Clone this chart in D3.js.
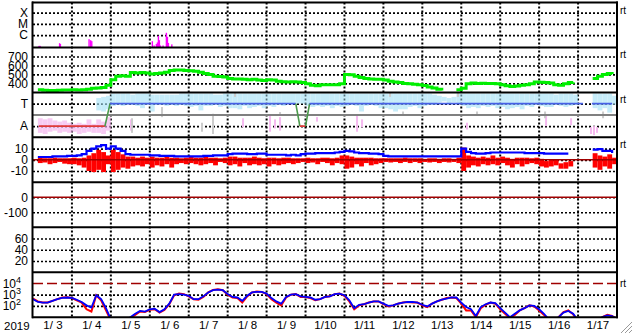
<!DOCTYPE html>
<html>
<head>
<meta charset="utf-8">
<script src="https://cdn.jsdelivr.net/npm/d3@7"></script>
<style>
body { margin: 0; background: #fff; }
svg { display: block; font-family: "Liberation Sans", Arial, sans-serif; }
</style>
</head>
<body>
<div id="chart"></div>
<script>
// ---- data (3-hour grid starting 2019-01-03 00:00) ----
const dayLabels = ["1/ 3","1/ 4","1/ 5","1/ 6","1/ 7","1/ 8","1/ 9","1/10","1/11","1/12","1/13","1/14","1/15","1/16","1/17"];

const flareTimes = ["2019-01-03 03:40","2019-01-03 04:20","2019-01-03 16:20","2019-01-03 16:50","2019-01-04 10:30","2019-01-04 11:30","2019-01-04 12:10",
  "2019-01-06 01:30","2019-01-06 02:35","2019-01-06 04:00","2019-01-06 04:38","2019-01-06 05:15","2019-01-06 05:51","2019-01-06 06:29",
  "2019-01-06 08:08","2019-01-06 10:10","2019-01-06 10:48","2019-01-06 11:24","2019-01-06 13:31"];
const flareFlux = [1.1e-7,1.1e-7,1.9e-7,1.6e-7,4.3e-7,3.5e-7,2.9e-7,
  2.85e-7,1.2e-7,1.6e-7,2.2e-7,8.6e-7,3.5e-7,1.2e-7,
  1.2e-7,1.6e-6,7e-7,2e-7,1.5e-7];

const speed = [null,330,325,322,322,325,328,328,330,328, 330,335,345,348,355,380,440,480,485,480,
  520,515,520,515,505,510,515,525,545,550, 548,545,540,535,525,510,500,480,478,470,
  455,450,448,445,440,445,438,432,440,438, 425,418,415,418,415,410,395,380,375,385,
  385,385,385,395,500,495,480,465,455,448, 445,445,438,425,415,410,400,395,390,385,
  378,360,350,335,320,null,null,330,345,395, 405,400,402,400,398,395,385,375,365,372,
  380,385,395,415,413,410,405,385,380,395, 410,412,null,null,null,455,480,500,510,505];

const tempLo = [null,null,null,null,null,null,null,null,null,null, null,null,null,2.4,2.3,2.5,2.8,2.9,2.8,2.9,
  2.9,2.8,2.6,2.9,2.3,2.9,2.9,2.8,2.9,2.8, 2.9,2.8,2.7,2.8,2.4,2.8,2.8,2.9,2.7,2.8,
  2.6,2.6,2.5,2.8,2.6,2.7,2.8,2.6,2.8,2.7, 2.9,2.8,3.0,3.0,3.0,3.0,2.8,2.7,2.8,2.7,
  2.8,2.6,2.8,2.7,2.8,2.9,2.8,2.3,2.8,2.9, 2.8,2.6,2.6,2.5,2.3,2.5,2.5,2.7,2.8,2.6,
  2.8,2.9,2.9,3.1,3.2,3.0,3.1,3.0,2.8,2.6, 2.7,2.6,2.8,2.7,2.8,2.6,2.7,2.5,2.6,2.7,
  2.5,2.8,2.7,2.9,2.8,2.7,2.7,2.9,2.8,2.7, 2.8,2.9,null,null,null,2.6,2.4,2.6,2.2,2.9];
const tempHi = [null,null,null,null,null,null,null,null,null,null, null,null,null,3.5,3.6,3.7,3.9,3.9,3.9,3.9,
  3.8,3.9,3.9,3.9,3.8,3.8,3.8,3.8,3.8,3.8, 3.9,3.9,3.9,3.9,3.9,3.9,3.9,3.8,3.8,3.9,
  3.9,3.9,3.9,3.9,3.9,3.9,3.9,3.9,3.9,3.9, 3.9,3.9,3.9,3.9,3.9,3.9,3.9,3.9,3.9,3.9,
  3.9,3.9,3.9,3.9,3.9,3.9,3.9,3.9,3.9,3.9, 3.9,3.9,3.9,3.9,3.9,3.9,3.9,3.9,3.9,3.9,
  3.9,3.9,3.8,3.7,3.6,3.5,3.6,3.9,3.9,3.9, 3.9,3.9,3.9,3.9,3.9,3.9,3.9,3.9,3.9,3.9,
  3.9,3.9,3.9,3.9,3.9,3.9,3.9,3.8,3.9,3.9, 3.9,3.8,null,null,null,3.9,3.9,3.9,3.9,3.7];
const alphaLo = [null,0.4,0.3,0.5,0.6,0.4,0.5,0.4,0.5,0.3,0.4,0.5,0.4,0.4,0.3,0.6];
const alphaHi = [null,1.7,1.6,1.7,1.5,1.4,1.5,1.3,1.2,1.3,1.2,1.6,1.2,1.6,1.4,1.8];

const pinkTimes = ["2019-01-05 12:25","2019-01-08 09:27","2019-01-09 02:07","2019-01-09 05:11","2019-01-09 08:17","2019-01-10 07:05","2019-01-11 07:45",
  "2019-01-11 10:50","2019-01-14 03:33","2019-01-16 04:16","2019-01-16 19:41","2019-01-17 08:00","2019-01-17 09:50","2019-01-17 11:41"];
const pinkLo = [0.6,0.9,0.5,0.8,0.6,1.4,0.5,0.9,0.7,1.0,1.1,0.3,0.2,0.4];
const pinkHi = [1.6,1.7,1.9,1.6,1.8,1.8,1.9,1.6,1.3,1.9,1.7,0.9,1.0,0.9];
const grayTimes = ["2019-01-05 13:02","2019-01-06 07:32","2019-01-07 08:11","2019-01-07 14:58","2019-01-08 04:32","2019-01-09 08:17",
  "2019-01-12 04:05","2019-01-12 12:06","2019-01-13 22:00","2019-01-14 09:43","2019-01-16 03:39","2019-01-17 15:24"];
const grayLo = [0.4,1.8,0.5,0.3,3.6,2.0,3.6,2.0,3.6,2.0,1.7,1.7];
const grayHi = [1.7,2.7,1.3,2.1,4.0,2.25,4.0,2.3,4.0,2.3,2.3,2.3];

const statusTimes = ["2019-01-03 03:40","2019-01-04 20:20","2019-01-04 23:30","2019-01-09 18:00","2019-01-09 20:30","2019-01-10 00:00",
  "2019-01-10 02:30","2019-01-17 03:00",null,"2019-01-17 08:30","2019-01-17 21:00"];
const statusLevel = [1,1,3,3,1,1,3,3,null,3,3];

const bTotal = [null,2.5,2.5,2.5,3,3,3,3.5,3.5,4, 5,8,10,12,13,10,12,10,8,5,
  4.5,4.5,4.5,4.5,4,4,3.5,3.5,3.5,3, 3,3,3,3,3,3.5,3.5,4,4,4,
  5,5.5,5.5,5.5,5,5,5.5,5.5,4.5,4.5, 4.5,4.5,4,4.5,4,5,5.5,5.5,6,6,
  6,6,6.5,7,8,7.5,6.5,6,6,5.5, 5.5,5,3.5,3,3,3,3,3,3,3,
  3,3,3,3,3,3,3,3,10,7, 6,5.5,5.5,6,6.5,6.5,6.5,6.5,6.5,6.5,
  6.5,6,6,6,6,5.5,5.5,5.5,5.5,5.5, 5.5,null,null,null,null,9,9.5,8,8,6];
const bzMin = [null,-2,-1.5,-3,-2,-1,-2.5,-3,-3,-4, -6,-9,-10,-8,-10,-3,-10,-8,-6,-7,
  -5,-4,-5,-3,-6,-4,-5,-3,-6,-3, -2,-3,-2,-3,-4,-3,-2,-4,-1,-2,
  -4,-3,-5,-2,-4,-3,-4,-3,-5,-3, -4,-3,-2,-3,-2,-1,-2,-1.5,-3,-1,
  -2,-4,-2,-3,-7,-6,-3,-5,-2,-4, -3,-2,-1,-1.5,-1,-2,-1,-2,-1,-2,
  -1,-1.5,-1,-2,-1,-1.5,-1,-2,-9,-6, -4,-5,-3,-4,-3,-4,-2,-4,-6,-3,
  -5,-3,-2,-3,-5,-6,-5,-4,-7,-7, -5,null,null,null,null,-6,-8,-5,-7,-3];
const bzMax = [null,1,0.5,0.5,1,0.5,0.5,0.5,1,0.5, 1,3,5,8,6,3,8,6,4,2,
  2,1,2,1,2,1,1,2,1,1, 0.5,1,2,1,1,2,1,1,0.5,1,
  2,2,1,1,1,2,1,0.5,1,1, 0.5,1,1,0.5,0.5,0.5,1,0.5,0.5,1,
  1,0.5,1,3,3,2,1,1,1,1, 0.5,0.5,0.5,0.5,0.5,0.5,1,0.5,0.5,0.5,
  0,0.5,0.5,0,0.5,0.5,0,1,10,3, 2,1,2,1,3,1,2,1,0,1,
  1,1,0.5,1,0,-2,-1,-1,-4,-3, -2,null,null,null,null,5,3,2,4,1];

// electron flux, log10 values
const electronBlue = [2.6,2.35,2.3,2.3,2.45,2.6,2.72,2.75,2.72,2.55, 2.35,2.05,1.85,2.95,2.6,1.8,0.8,0.5,0.5,0.7,
  1.0,1.3,1.55,1.5,1.7,1.75,1.45,1.7,2.2,3.0, 3.05,3.0,2.9,2.6,2.6,2.85,3.2,3.4,3.45,3.4,
  3.05,2.8,2.75,2.45,2.9,3.2,3.25,3.25,3.1,2.7, 2.4,2.2,2.8,3.0,3.05,2.85,2.8,2.75,2.55,2.6,
  2.8,2.85,3.05,3.1,2.95,2.5,1.8,2.1,2.15,2.3, 2.4,2.4,2.2,2.0,2.05,2.2,2.3,2.35,2.35,2.3,
  2.1,1.95,2.2,2.4,2.55,2.65,2.75,2.75,2.3,1.9, 1.7,1.1,1.9,2.15,2.3,2.25,1.8,1.4,1.0,1.3,
  1.6,1.8,2.05,2.0,1.7,1.3,0.8,0.6,1.0,1.4, 1.55,1.3,0.7,0.5,0.5,0.5,0.6,1.0,1.15,1.1, 0.8];
const electronRed = [2.65,2.4,2.3,2.3,2.45,2.6,2.75,2.78,2.7,2.5, 2.3,1.7,1.5,2.95,2.5,1.6,0.7,0.5,0.5,0.6,
  0.9,1.2,1.5,1.45,1.65,1.7,1.4,1.65,2.15,2.95, 3.1,3.05,2.85,2.6,2.55,2.8,3.2,3.42,3.48,3.4,
  3.0,2.75,2.7,2.3,2.85,3.2,3.28,3.25,3.05,2.6, 2.3,2.05,2.75,3.0,3.05,2.8,2.8,2.7,2.5,2.6,
  2.8,2.85,3.05,3.1,2.9,2.4,1.7,2.05,2.15,2.3, 2.4,2.4,2.15,1.95,2.05,2.2,2.3,2.35,2.3,2.3,
  2.05,1.9,2.2,2.4,2.55,2.7,2.75,2.7,2.2,1.6, 1.6,1.0,1.8,2.1,2.3,2.2,1.7,1.3,0.9,1.2,
  1.6,1.8,2.05,1.95,1.6,1.2,0.7,0.5,1.0,1.45, 1.6,1.25,0.6,0.5,0.5,0.5,0.5,1.0,1.2,1.1, 0.8];

// ---- layout ----
const width = 633, height = 334;
const left = 33, right = 617;
const top0 = 2.5, ph = 44.95;
const pt = k => top0 + k * ph;
const pb = k => top0 + (k + 1) * ph;

const parse = d3.timeParse("%Y-%m-%d %H:%M");
const start = new Date(2019, 0, 3), end = new Date(2019, 0, 18);
const tAt = i => d3.timeHour.offset(start, 3 * i);

const x = d3.scaleTime().domain([start, end]).range([left, right]);

const yX = d3.scaleLog().domain([Math.pow(10, -7.1), Math.pow(10, -3.1)]).range([pb(0), pt(0)]);
const ySpd = d3.scaleLinear().domain([300, 800]).range([pb(1), pt(1)]);
const yTA = d3.scaleLinear().domain([0, 4]).range([pb(2), pt(2)]);
const yB = d3.scaleLinear().domain([-20, 20]).range([pb(3), pt(3)]);
const yDst = d3.scaleLinear().domain([-200, 100]).range([pb(4), pt(4)]);
const yKp = d3.scaleLinear().domain([0, 80]).range([pb(5), pt(5)]);
const yE = d3.scaleLog().domain([10, 1e5]).range([pb(6), pt(6)]);

const svg = d3.select("#chart").append("svg")
  .attr("width", width).attr("height", height)
  .attr("viewBox", [0, 0, width, height]);

const defs = svg.append("defs");
for (let k = 0; k < 7; k++) {
  defs.append("clipPath").attr("id", "clip" + k)
    .append("rect").attr("x", left).attr("y", pt(k)).attr("width", right - left).attr("height", ph);
}
const panel = k => svg.append("g").attr("clip-path", "url(#clip" + k + ")");

// horizontal dotted grid + labels via axes
function yAxis(scale, vals, labels, pad) {
  const g = svg.append("g").attr("transform", "translate(" + left + ",0)")
    .call(d3.axisLeft(scale).tickValues(vals).tickFormat((d, i) => labels[i])
      .tickSize(-(right - left)).tickPadding(pad || 5))
    .attr("font-family", null).attr("font-size", null);
  g.select(".domain").remove();
  g.selectAll(".tick line").attr("stroke", "#000").attr("stroke-width", 1.6).attr("stroke-dasharray", "2,2");
  g.selectAll(".tick text").attr("font-size", 12).attr("fill", "#000");
  return g;
}
yAxis(yX, [1e-4, 1e-5, 1e-6], ["X", "M", "C"]);
yAxis(ySpd, [700, 600, 500, 400], ["700", "600", "500", "400"]);
yAxis(yTA, [3, 1], ["T", "A"]);
yAxis(yB, [10, 0, -10], ["10", "0", "-10"]);
yAxis(yDst, [0, -100], ["0", "-100"]);
yAxis(yKp, [60, 40, 20], ["60", "40", "20"]);
const eAxis = yAxis(yE, [1e4, 1e3, 1e2], ["4", "3", "2"], 12);
eAxis.selectAll(".tick text").each(function () {
  const t = d3.select(this), exp = t.text();
  t.text("");
  t.append("tspan").text("10");
  t.append("tspan").attr("dy", -5).attr("font-size", 9).text(exp);
});
eAxis.selectAll(".tick line").filter(d => d === 1e4).attr("stroke", "none");

// vertical dotted day lines
svg.append("g").selectAll("line")
  .data(d3.timeDay.range(d3.timeDay.offset(start, 1), end))
  .join("line")
  .attr("x1", d => x(d)).attr("x2", d => x(d))
  .attr("y1", pt(0)).attr("y2", pb(6))
  .attr("stroke", "#000").attr("stroke-width", 2).attr("stroke-dasharray", "2,2");

// ---- panel 0: x-ray flares ----
panel(0).selectAll("rect").data(flareTimes).join("rect")
  .attr("x", d => x(parse(d)) - 0.6).attr("width", 1.4)
  .attr("y", (d, i) => yX(flareFlux[i]))
  .attr("height", (d, i) => pb(0) - yX(flareFlux[i]))
  .attr("fill", "#ff00ff");

// ---- panel 1: speed ----
panel(1).append("path")
  .datum(speed.map((v, i) => [tAt(i), v]))
  .attr("fill", "none").attr("stroke", "#00ee00").attr("stroke-width", 3)
  .attr("d", d3.line().defined(d => d[1] != null).x(d => x(d[0])).y(d => ySpd(d[1])).curve(d3.curveStepAfter));

// ---- panel 2: T / A ----
const p2 = panel(2);
function bands(g, lo, hi, color) {
  g.append("g").attr("opacity", 0.65).selectAll("rect")
    .data(lo.map((v, i) => i).filter(i => lo[i] != null && hi[i] != null))
    .join("rect")
    .attr("x", i => x(tAt(i))).attr("width", i => x(tAt(i + 1)) - x(tAt(i)))
    .attr("y", i => yTA(hi[i])).attr("height", i => yTA(lo[i]) - yTA(hi[i]))
    .attr("fill", color);
}
bands(p2, tempLo, tempHi, "#a8e2f6");
bands(p2, alphaLo, alphaHi, "#f4b0ee");
function streaks(g, times, lo, hi, color) {
  g.append("g").selectAll("rect").data(times).join("rect")
    .attr("x", d => x(parse(d)) - 1).attr("width", 2)
    .attr("y", (d, i) => yTA(hi[i])).attr("height", (d, i) => yTA(lo[i]) - yTA(hi[i]))
    .attr("fill", color);
}
streaks(p2, pinkTimes, pinkLo, pinkHi, "#f6baf0");
streaks(p2, grayTimes, grayLo, grayHi, "#cccccc");
p2.append("line").attr("x1", left).attr("x2", right)
  .attr("y1", yTA(2)).attr("y2", yTA(2)).attr("stroke", "#808080").attr("stroke-width", 2);
const status = statusTimes.map((s, i) => s ? { t: parse(s), v: statusLevel[i] } : null);
const segs = d3.pairs(status).filter(p => p[0] && p[1]);
p2.append("g").selectAll("line").data(segs).join("line")
  .attr("x1", p => x(p[0].t)).attr("x2", p => x(p[1].t))
  .attr("y1", p => yTA(p[0].v)).attr("y2", p => yTA(p[1].v))
  .attr("stroke", p => p[0].v !== p[1].v ? "#4a9a4a" : (p[0].v === 3 ? "#4660e6" : "#e03a3a"))
  .attr("stroke-width", 1.6);

// ---- panel 3: Bz / Bt ----
const p3 = panel(3);
p3.append("g").selectAll("rect")
  .data(bzMin.map((v, i) => i).filter(i => bzMin[i] != null))
  .join("rect")
  .attr("x", i => x(tAt(i))).attr("width", i => x(tAt(i + 1)) - x(tAt(i)))
  .attr("y", i => yB(bzMax[i]) - 1).attr("height", i => yB(bzMin[i]) - yB(bzMax[i]) + 2)
  .attr("fill", "#ff0000");
p3.append("path")
  .datum(bTotal.map((v, i) => [tAt(i), v]))
  .attr("fill", "none").attr("stroke", "#0000ff").attr("stroke-width", 2.2)
  .attr("d", d3.line().defined(d => d[1] != null).x(d => x(d[0])).y(d => yB(d[1])).curve(d3.curveStepAfter));
p3.append("line").attr("x1", left).attr("x2", right)
  .attr("y1", yB(0)).attr("y2", yB(0)).attr("stroke", "#a00000").attr("stroke-width", 1.5);

// ---- panel 4: zero line ----
panel(4).append("line").attr("x1", left).attr("x2", right)
  .attr("y1", yDst(0)).attr("y2", yDst(0)).attr("stroke", "#a00000").attr("stroke-width", 1.5);

// ---- panel 6: electrons ----
const p6 = panel(6);
p6.append("line").attr("x1", left).attr("x2", right)
  .attr("y1", yE(1e4)).attr("y2", yE(1e4)).attr("stroke", "#a00000").attr("stroke-width", 1.5)
  .attr("stroke-dasharray", "10,4");
const eLine = d3.line().x((d, i) => x(tAt(i))).y(d => yE(Math.pow(10, d)));
p6.append("path").datum(electronRed).attr("fill", "none").attr("stroke", "#ff0000").attr("stroke-width", 2).attr("d", eLine);
p6.append("path").datum(electronBlue).attr("fill", "none").attr("stroke", "#0000ff").attr("stroke-width", 1.8).attr("d", eLine);

// ---- frame ----
const frame = svg.append("g").attr("stroke", "#000").attr("stroke-width", 2);
frame.selectAll("line.h").data(d3.range(8)).join("line")
  .attr("x1", left - 1).attr("x2", right + 1).attr("y1", k => pt(k)).attr("y2", k => pt(k));
frame.append("line").attr("x1", left - 0.5).attr("x2", left - 0.5).attr("y1", pt(0) - 1).attr("y2", pb(6) + 1);
frame.append("line").attr("x1", right).attr("x2", right).attr("y1", pt(0) - 1).attr("y2", pb(6) + 1);

// right "rt" marks
const rtY = [pt(0) + 11, pt(1) + 11, pt(2) + 11, pt(3) + 11, yE(1e4) + 4];
svg.append("g").selectAll("text").data(rtY).join("text")
  .attr("x", 620).attr("y", d => d).attr("font-size", 10).text("rt");

// date axis
const xa = svg.append("g").attr("transform", "translate(0," + pb(6) + ")")
  .call(d3.axisBottom(x).tickValues(d3.range(15).map(d => d3.timeHour.offset(start, 24 * d + 12)))
    .tickFormat((d, i) => dayLabels[i]).tickSize(0).tickPadding(4))
  .attr("font-family", null).attr("font-size", null);
xa.select(".domain").remove();
xa.selectAll("text").attr("font-size", 11.5).attr("fill", "#000");
svg.append("text").attr("x", 4).attr("y", 330).attr("font-size", 11.5).text("2019");

// resize grip
svg.append("g").selectAll("line").data([0, 4, 8]).join("line")
  .attr("x1", d => 621 + d).attr("y1", 333).attr("x2", 632).attr("y2", d => 322 + d)
  .attr("stroke", "#999").attr("stroke-width", 1);
</script>
</body>
</html>
